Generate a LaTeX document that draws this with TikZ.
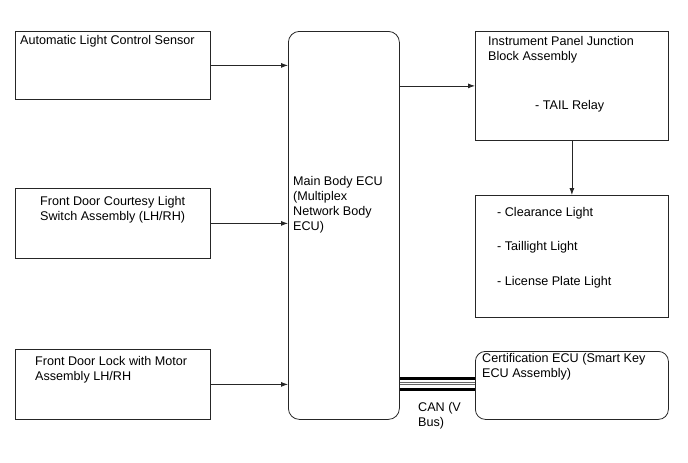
\documentclass[tikz,border=0pt]{standalone}
\usepackage{fontspec}
\setmainfont{Liberation Sans}
\usetikzlibrary{arrows.meta,calc}
\begin{document}
\begin{tikzpicture}[x=1pt,y=-1pt,
  box/.style={draw=black!85,line width=0.8pt,anchor=north west,inner sep=0pt},
  rbox/.style={box,rounded corners=11pt},
  txt/.style={anchor=north west,inner sep=0pt,align=left,font=\fontsize{12.6}{15}\selectfont},
  arr/.style={draw=black!85,line width=0.8pt,-{Latex[length=7pt,width=5pt]}}]
\useasboundingbox (0,0) rectangle (688,463);
% boxes
\node[box,minimum width=195pt,minimum height=68pt] (als) at (15,31) {};
\node[box,minimum width=195pt,minimum height=70pt] (fdc) at (15,188) {};
\node[box,minimum width=195pt,minimum height=70pt] (fdl) at (15,349) {};
\node[rbox,minimum width=111pt,minimum height=388pt] (ecu) at (288,31) {};
\node[box,minimum width=193pt,minimum height=109pt] (ipj) at (475,31) {};
\node[box,minimum width=193pt,minimum height=122pt] (lgt) at (475,195) {};
\node[rbox,rounded corners=10pt,minimum width=193pt,minimum height=68pt] (cert) at (475,351) {};
% texts
\node[txt] (t1) at (20,35) {Automatic Light Control Sensor};
\node[txt] (t2) at (40,196) {Front Door Courtesy Light\\Switch Assembly (LH/RH)};
\node[txt] (t3) at (35,356) {Front Door Lock with Motor\\Assembly LH/RH};
\node[txt] (t4) at (293,176) {Main Body ECU\\(Multiplex\\Network Body\\ECU)};
\node[txt] (t5) at (488,36) {Instrument Panel Junction\\Block Assembly};
\node[txt] (t6) at (535,100) {- TAIL Relay};
\node[txt] (t7) at (497,207) {- Clearance Light};
\node[txt] (t8) at (497,241) {- Taillight Light};
\node[txt] (t9) at (497,276) {- License Plate Light};
\node[txt] (t10) at (482,353) {Certification ECU (Smart Key\\ECU Assembly)};
\node[txt] (t11) at (418,402) {CAN (V\\Bus)};
% connectors
\draw[arr] (als.east) -- (als.east -| ecu.west);
\draw[arr] (fdc.east) -- (fdc.east -| ecu.west);
\draw[arr] (fdl.east) -- (fdl.east -| ecu.west);
\draw[arr] (ipj.west -| ecu.east) -- (ipj.west);
\draw[arr] (ipj.south) -- (lgt.north);
% CAN bus
\draw[line width=3pt] ($(cert.west -| ecu.east)+(0,-6.5)$) -- ($(cert.west)+(0,-6.5)$);
\draw[line width=0.8pt,black!60] ($(cert.west -| ecu.east)+(0,-3.5)$) -- ($(cert.west)+(0,-3.5)$);
\draw[line width=0.8pt,black!60] ($(cert.west -| ecu.east)+(0,-1.5)$) -- ($(cert.west)+(0,-1.5)$);
\draw[line width=3pt] ($(cert.west -| ecu.east)+(0,4.5)$) -- ($(cert.west)+(0,4.5)$);
\end{tikzpicture}
\end{document}
